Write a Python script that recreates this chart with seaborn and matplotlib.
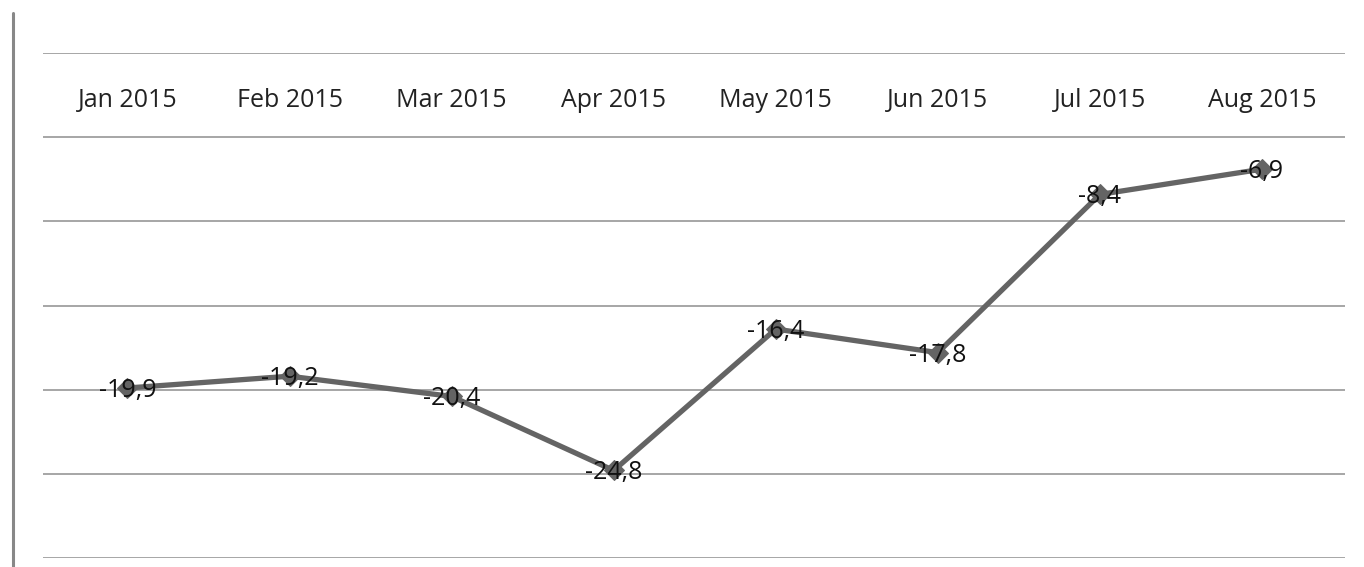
import matplotlib.pyplot as plt
import matplotlib.lines as mlines
import pandas as pd
import seaborn as sns

# --- dane ---
MONTHS = ["Jan 2015", "Feb 2015", "Mar 2015", "Apr 2015",
          "May 2015", "Jun 2015", "Jul 2015", "Aug 2015"]
VALUES = [-19.9, -19.2, -20.4, -24.8, -16.4, -17.8, -8.4, -6.9]
Y_TICKS = [0, -5, -10, -15, -20, -25, -30]

LINE_COLOR = "#646464"
GRID_COLOR = "#a6a6a6"

sns.set_style("white")
plt.rcParams["font.family"] = ["Open Sans", "DejaVu Sans"]

df = pd.DataFrame({"pos": range(len(MONTHS)), "value": VALUES})

fig = plt.figure(figsize=(13.64, 5.67), dpi=100)
ax = fig.add_axes([43 / 1364, 1 - 558 / 567, (1345 - 43) / 1364, (558 - 53) / 567])

sns.lineplot(data=df, x="pos", y="value", ax=ax, color=LINE_COLOR,
             linewidth=3.8, marker="D", markersize=10,
             markeredgecolor=LINE_COLOR, zorder=3)

for y in Y_TICKS:
    ax.axhline(y, color=GRID_COLOR, linewidth=1.4, zorder=1)

# etykiety kategorii w pasie pod osią zerową
for i, m in enumerate(MONTHS):
    ax.text(i, -2.85, m, ha="center", va="center", fontsize=18, color="#222222")

# etykiety wartości (przecinek dziesiętny)
for i, v in enumerate(VALUES):
    ax.text(i, v - 0.15, f"{v:.1f}".replace(".", ","), ha="center", va="center",
            fontsize=18, color="#111111", zorder=4)

ax.set_xlim(-0.521, 7.512)
ax.set_ylim(-30, 0)
ax.set_xlabel("")
ax.set_ylabel("")
ax.set_xticks([])
ax.set_yticks([])
for s in ax.spines.values():
    s.set_visible(False)

# pionowa linia z lewej strony
fig.add_artist(mlines.Line2D([13 / 1364, 13 / 1364], [0, 1 - 13 / 567],
                             transform=fig.transFigure, color="#888888", linewidth=2.2))

fig.savefig("out.png", dpi=100)
